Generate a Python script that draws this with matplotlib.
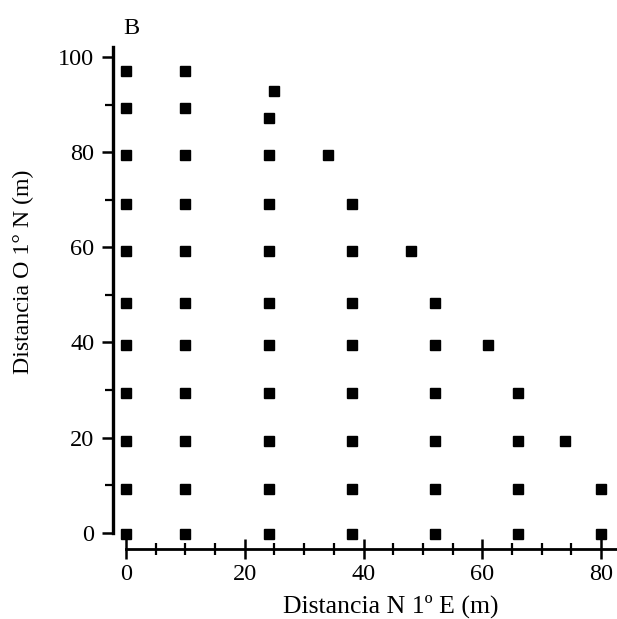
import numpy as np
import matplotlib.pyplot as plt
from matplotlib.ticker import MultipleLocator

plt.rcParams['font.family'] = ['Liberation Serif', 'DejaVu Serif']

# grid columns (m, N 1º E) and their sampled rows (m, O 1° N)
rows = [-0.3, 9.3, 19.3, 29.4, 39.5, 48.3, 59.2, 69.0, 79.4, 89.3, 97.0]
col_x = [0, 10, 24, 25, 34, 38, 48, 52, 61, 66, 74, 80]
col_y = [
    rows,
    rows,
    rows[:9] + [87.2],
    [92.9],
    [79.4],
    rows[:8],
    [59.2],
    rows[:6],
    [39.5],
    rows[:4],
    [19.3],
    rows[:2],
]

xs = []
ys = []
for cx, cy in zip(col_x, col_y):
    for v in cy:
        xs.append(cx)
        ys.append(v)

fig = plt.figure(figsize=(6.17, 6.19), dpi=100)
ax = fig.add_axes([0.1831, 0.1131, 0.8169, 0.8179])
ax.plot(xs, ys, linestyle='none', marker='s', color='black', markersize=7.8)

ax.set_xlim(-2.2, 82.7)
ax.set_ylim(-3.4, 103)

for s in ['top', 'right']:
    ax.spines[s].set_visible(False)
ax.spines['left'].set_bounds(0, 102)
ax.spines['bottom'].set_bounds(0, 82.7)
ax.spines['left'].set_linewidth(2.4)
ax.spines['bottom'].set_linewidth(2.0)

ax.xaxis.set_major_locator(MultipleLocator(20))
ax.xaxis.set_minor_locator(MultipleLocator(5))
ax.yaxis.set_major_locator(MultipleLocator(20))
ax.yaxis.set_minor_locator(MultipleLocator(10))

ax.tick_params(axis='x', which='major', direction='inout', length=14, width=1.8, labelsize=17.5, pad=4)
ax.tick_params(axis='x', which='minor', direction='inout', length=9, width=1.6)
ax.tick_params(axis='y', which='major', direction='out', length=8, width=1.8, labelsize=17.5, pad=5.5)
ax.tick_params(axis='y', which='minor', direction='out', length=5.5, width=1.6)

fig.text(391 / 617, 1 - 606 / 619, 'Distancia N 1º E (m)', ha='center', va='center', fontsize=18.5)
fig.text(23 / 617, 1 - 272 / 619, 'Distancia O 1° N (m)', ha='center', va='center', rotation=90, fontsize=17.2)
fig.text(123 / 617, 1 - 29 / 619, 'B', ha='left', va='center', fontsize=17.5)

fig.savefig('out.png', dpi=100)
